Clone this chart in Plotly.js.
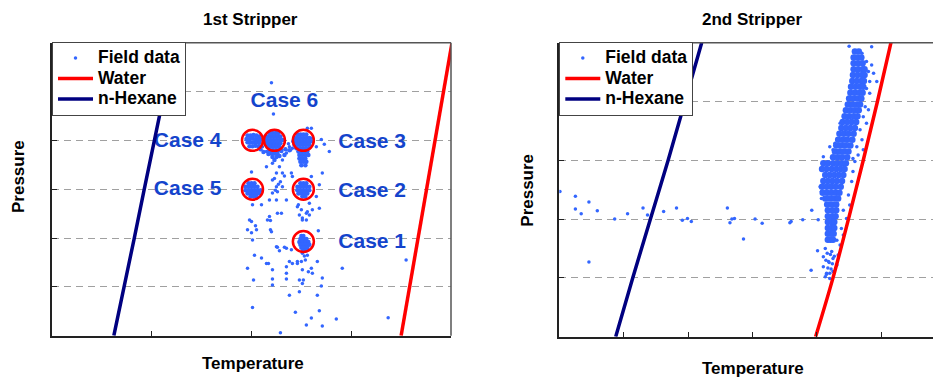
<!DOCTYPE html>
<html>
<head>
<meta charset="utf-8">
<script src="https://cdn.plot.ly/plotly-3.0.1.min.js"></script>
<style>html,body{margin:0;padding:0;background:#fff;}#chart{width:933px;height:379px;}</style>
</head>
<body>
<div id="chart"></div>
<script>
// ---------- 1st stripper ----------
var fieldX1 = [2.20,2.22,2.11,2.15,2.30,2.35,2.31,2.38,2.41,2.61,2.65,2.78,2.56,2.60,2.15,2.21,2.28,2.25,2.31,2.21,2.25,2.21,2.18,2.25,2.31,2.35,2.40,2.41,2.60,2.71,2.68,2.65,2.58,2.61,2.68,2.55,2.51,2.48,2.46,2.26,2.30,2.16,2.18,1.98,2.00,1.96,2.05,2.20,2.01,2.67,2.25,2.35,2.51,2.56,2.46,2.41,2.03,2.10,1.96,2.15,2.21,2.35,2.35,2.60,2.61,2.91,3.55,2.02,2.48,2.51,2.21,2.70,2.71,2.66,2.38,2.48,2.01,2.44,2.68,2.60,2.55,2.71,2.85,3.37,2.29,
  2.01,2.10,2.26,2.47,2.50,2.56,2.51,2.55,2.58,2.04,2.19,2.00,2.19,2.26,2.28,2.33,2.40,2.53,2.54,2.50,2.46,2.38,2.66,2.17,2.51,2.57,2.21,2.35,2.52,
  2.37,2.39,2.70,2.73,2.23,2.29,2.33,2.27,2.24,2.00];
var fieldY1 = [5.18,4.54,3.87,3.77,3.81,3.74,3.60,3.87,3.84,4.05,3.87,3.77,4.25,4.25,3.46,3.53,3.46,3.33,3.33,3.19,3.05,2.92,2.78,2.78,3.05,2.78,3.33,3.26,3.26,3.33,3.09,2.85,2.71,2.58,2.61,2.51,2.37,2.47,2.64,2.51,2.51,2.37,2.44,2.37,2.34,2.17,2.17,2.13,1.96,2.15,1.82,1.79,1.69,1.65,1.48,1.48,1.65,1.59,1.38,1.48,1.35,1.41,1.28,1.38,1.28,1.38,1.55,1.14,1.14,1.07,1.04,1.02,1.18,0.83,0.83,0.90,0.58,0.48,0.51,0.36,0.22,0.20,0.34,0.37,0.06,
  2.68,2.68,2.95,2.68,2.58,2.54,2.41,2.37,2.47,2.25,2.36,2.11,2.17,1.81,1.74,1.81,1.76,1.63,1.55,1.52,1.52,1.52,1.52,1.48,1.35,1.31,1.16,1.16,1.14,
  3.93,3.80,4.02,3.92,3.22,3.15,3.27,3.10,2.98,3.35];

// dense clusters (Case 4, Case 6 + tail, Case 3 + tail, Case 5, Case 2, Case 1)
var denseX1 = [
  1.96,1.99,2.02,2.05,2.08, 1.95,1.98,2.01,2.04,2.07,2.10, 1.96,1.99,2.02,2.05,2.08, 1.98,2.01,2.04,2.07,
  2.18,2.21,2.24,2.27, 2.14,2.17,2.20,2.23,2.26,2.29, 2.13,2.16,2.19,2.22,2.25,2.28,2.31, 2.14,2.17,2.20,2.23,2.26,2.29, 2.16,2.19,2.22,2.25,2.28,
  2.18,2.21,2.24,2.27, 2.20,2.23,2.26, 2.21,2.25, 2.23, 2.09,2.12,2.30,2.34,2.38,2.33,2.28,2.17,
  2.46,2.49,2.52,2.55, 2.43,2.46,2.49,2.52,2.55,2.58, 2.42,2.45,2.48,2.51,2.54,2.57,2.60, 2.43,2.46,2.49,2.52,2.55,2.58, 2.45,2.48,2.51,2.54,2.57,
  2.47,2.50,2.53,2.56, 2.48,2.51,2.54,2.57, 2.48,2.51,2.54, 2.49,2.52,2.55, 2.50,2.54,
  1.97,2.00,2.03, 1.94,1.97,2.00,2.03,2.06, 1.94,1.97,2.00,2.03,2.06,2.09, 1.96,1.99,2.02,2.05,2.08, 1.99,2.02,2.05,
  2.49,2.52,2.55, 2.46,2.49,2.52,2.55,2.58, 2.46,2.49,2.52,2.55,2.58, 2.47,2.50,2.53,2.56, 2.51,2.54,
  2.50,2.52, 2.49,2.52,2.55, 2.48,2.51,2.54,2.57, 2.49,2.52,2.55,2.58, 2.50,2.53,2.56, 2.52,2.55];
var denseY1 = [
  4.10,4.10,4.11,4.10,4.08, 4.03,4.03,4.04,4.03,4.03,4.02, 3.96,3.96,3.96,3.96,3.95, 3.88,3.88,3.89,3.88,
  4.15,4.15,4.15,4.15, 4.08,4.08,4.08,4.08,4.08,4.08, 4.01,4.01,4.01,4.01,4.01,4.01,4.01, 3.94,3.94,3.94,3.94,3.94,3.94, 3.87,3.87,3.87,3.87,3.87,
  3.80,3.80,3.80,3.80, 3.73,3.73,3.73, 3.66,3.66, 3.60, 3.82,3.76,3.78,3.82,3.80,3.70,3.68,3.72,
  4.12,4.12,4.12,4.12, 4.05,4.05,4.05,4.05,4.05,4.05, 3.98,3.98,3.98,3.98,3.98,3.98,3.98, 3.91,3.91,3.91,3.91,3.91,3.91, 3.84,3.84,3.84,3.84,3.84,
  3.77,3.77,3.77,3.77, 3.70,3.70,3.70,3.70, 3.63,3.63,3.63, 3.56,3.56,3.56, 3.49,3.49,
  3.12,3.12,3.12, 3.05,3.05,3.05,3.05,3.05, 2.98,2.98,2.98,2.98,2.98,2.98, 2.91,2.91,2.91,2.91,2.91, 2.85,2.85,2.85,
  3.12,3.12,3.12, 3.05,3.05,3.05,3.05,3.05, 2.98,2.98,2.98,2.98,2.98, 2.91,2.91,2.91,2.91, 2.85,2.85,
  2.04,2.04, 1.98,1.98,1.98, 1.92,1.92,1.92,1.92, 1.86,1.86,1.86,1.86, 1.80,1.80,1.80, 1.75,1.75];

var caseCircleX = [2.01, 2.23, 2.52, 2.01, 2.52, 2.52];
var caseCircleY = [4.00, 4.00, 4.00, 3.00, 3.00, 1.93];
var caseLabels  = ["Case 6", "Case 4", "Case 3", "Case 5", "Case 2", "Case 1"];
var caseLabelX  = [2.33, 1.36, 3.21, 1.36, 3.21, 3.21];
var caseLabelY  = [4.80, 3.97, 3.95, 2.98, 2.94, 1.91];

var waterX1  = [3.50, 3.585, 3.67, 3.755, 3.84, 3.925, 4.01];
var waterY1  = [0, 1, 2, 3, 4, 5, 6];
var hexaneX1 = [0.62, 0.725, 0.825, 0.925, 1.025, 1.13, 1.23];
var hexaneY1 = [0, 1, 2, 3, 4, 5, 6];

// ---------- 2nd stripper ----------
var fieldX2 = [0.01,0.25,0.25,0.34,0.46,0.59,0.86,1.06,1.30,1.37,1.62,1.82,1.91,1.99,2.05,2.61,2.65,2.68,2.72,2.86,3.04,3.15,3.58,3.60,3.78,3.92,4.02,0.46,
  4.50,4.85,4.70,4.77,4.85,4.88,4.80,4.82,4.93,4.77,4.82,4.75,4.80,4.72,4.77,4.67,4.70,4.62,4.72,4.64,4.56,4.36,4.28,4.20,4.25,4.10,
  4.01,3.91,4.41,4.46,4.51,4.49,4.54,4.56,4.59,4.41,4.36,4.38,4.33,4.31,4.25,4.15,4.20,4.13,4.10,4.18,4.25,4.10,4.23,4.13,4.07,4.05,4.07,4.31,
  4.16,4.21,4.27,4.14,4.19,4.24,4.17,4.22,4.15,4.20];
var fieldY2 = [2.47,2.39,2.17,2.09,2.29,2.14,2.00,2.09,2.19,2.07,2.13,2.19,1.98,2.01,1.96,2.19,1.94,2.00,2.01,1.66,2.00,1.93,1.94,1.96,1.99,2.15,1.99,1.27,
  4.94,4.93,4.82,4.68,4.62,4.48,4.51,4.34,4.34,4.22,4.14,3.91,3.86,3.74,3.63,3.52,3.35,3.23,3.18,3.09,3.03,3.63,3.29,3.23,3.18,3.06,
  1.46,1.13,2.15,2.01,2.24,2.41,2.64,2.81,2.98,1.73,1.56,1.84,1.39,1.22,1.11,1.08,0.99,1.02,1.19,1.28,1.33,1.36,1.45,1.50,2.47,2.55,2.35,1.64,
  1.42,1.40,1.37,1.30,1.26,1.24,1.17,1.15,1.06,1.08];

var denseX2 = [
  4.59,4.65, 4.57,4.63,4.69, 4.57,4.64,4.71, 4.57,4.64,4.71,4.74, 4.56,4.63,4.70,4.74, 4.55,4.62,4.69,4.73,
  4.53,4.60,4.67,4.72, 4.52,4.59,4.66,4.71, 4.50,4.57,4.64,4.69, 4.48,4.55,4.62,4.67, 4.45,4.52,4.59,4.65,
  4.43,4.50,4.57,4.63, 4.40,4.47,4.54,4.61, 4.38,4.45,4.52,4.59, 4.35,4.42,4.49,4.57, 4.33,4.40,4.47,4.55,
  4.30,4.37,4.44,4.52, 4.28,4.35,4.42,4.49, 4.25,4.32,4.39,4.47, 4.10,4.17,4.25,4.32,4.39,4.45, 4.08,4.15,4.23,4.30,4.37,4.43,
  4.13,4.20,4.27,4.34,4.41, 4.10,4.17,4.24,4.31,4.39, 4.08,4.15,4.22,4.29,4.37, 4.09,4.16,4.23,4.30,4.35, 4.13,4.20,4.27,4.33,
  4.16,4.23,4.30, 4.17,4.24,4.30, 4.17,4.24,4.29, 4.17,4.23,4.27, 4.17,4.23,4.27, 4.17,4.22,4.26, 4.17,4.21,4.25];
var denseY2 = [
  4.85,4.85, 4.75,4.75,4.75, 4.65,4.65,4.65, 4.55,4.55,4.55,4.55, 4.45,4.45,4.45,4.45, 4.35,4.35,4.35,4.35,
  4.25,4.25,4.25,4.25, 4.15,4.15,4.15,4.15, 4.05,4.05,4.05,4.05, 3.95,3.95,3.95,3.95, 3.85,3.85,3.85,3.85,
  3.75,3.75,3.75,3.75, 3.65,3.65,3.65,3.65, 3.55,3.55,3.55,3.55, 3.45,3.45,3.45,3.45, 3.35,3.35,3.35,3.35,
  3.25,3.25,3.25,3.25, 3.15,3.15,3.15,3.15, 3.05,3.05,3.05,3.05, 2.95,2.95,2.95,2.95,2.95,2.95, 2.85,2.85,2.85,2.85,2.85,2.85,
  2.75,2.75,2.75,2.75,2.75, 2.65,2.65,2.65,2.65,2.65, 2.55,2.55,2.55,2.55,2.55, 2.45,2.45,2.45,2.45,2.45, 2.35,2.35,2.35,2.35,
  2.25,2.25,2.25, 2.15,2.15,2.15, 2.05,2.05,2.05, 1.95,1.95,1.95, 1.85,1.85,1.85, 1.75,1.75,1.75, 1.65,1.65,1.65];

var waterX2  = [3.98, 4.25, 4.49, 4.72, 4.94, 5.15];
var waterY2  = [0, 1, 2, 3, 4, 5];
var hexaneX2 = [0.876, 1.14, 1.415, 1.69, 1.952, 2.211];
var hexaneY2 = [0, 1, 2, 3, 4, 5];

var legendNames = ["Field data", "Water", "n-Hexane"];
var panelTitles = ["1st Stripper", "2nd Stripper"];
var xTitle = "Temperature";
var yTitle = "Pressure";

// ---------- styling ----------
var FONT = "Liberation Sans, Arial, Helvetica, sans-serif";
var BLUE = "#3366ff";
var W = 933, H = 379;
function lg(s) { return "<span style=\"font-size:17.5px\">" + s + "</span>"; }

var traces = [
  {x: fieldX1, y: fieldY1, type: "scatter", mode: "markers", name: lg(legendNames[0]), legend: "legend",
   marker: {color: BLUE, size: 3.5}, xaxis: "x", yaxis: "y"},
  {x: denseX1, y: denseY1, type: "scatter", mode: "markers", showlegend: false,
   marker: {color: BLUE, size: 4.5}, xaxis: "x", yaxis: "y"},
  {x: caseCircleX, y: caseCircleY, type: "scatter", mode: "markers", showlegend: false,
   marker: {symbol: "circle-open", color: "#ff0000", size: 21, line: {width: 2.5, color: "#ff0000"}}, xaxis: "x", yaxis: "y"},
  {x: caseLabelX, y: caseLabelY, text: caseLabels, type: "scatter", mode: "text", showlegend: false,
   textposition: "middle center", textfont: {family: FONT, size: 21, color: "#1444cc", weight: 700}, xaxis: "x", yaxis: "y"},
  {x: waterX1, y: waterY1, type: "scatter", mode: "lines", name: lg(legendNames[1]), legend: "legend",
   line: {color: "#ff0000", width: 3.5}, xaxis: "x", yaxis: "y"},
  {x: hexaneX1, y: hexaneY1, type: "scatter", mode: "lines", name: lg(legendNames[2]), legend: "legend",
   line: {color: "#000080", width: 3.5}, xaxis: "x", yaxis: "y"},

  {x: fieldX2, y: fieldY2, type: "scatter", mode: "markers", name: lg(legendNames[0]), legend: "legend2",
   marker: {color: BLUE, size: 3.5}, xaxis: "x2", yaxis: "y2"},
  {x: denseX2, y: denseY2, type: "scatter", mode: "markers", showlegend: false,
   marker: {color: BLUE, size: 6.5}, xaxis: "x2", yaxis: "y2"},
  {x: waterX2, y: waterY2, type: "scatter", mode: "lines", name: lg(legendNames[1]), legend: "legend2",
   line: {color: "#ff0000", width: 3.5, shape: "spline"}, xaxis: "x2", yaxis: "y2"},
  {x: hexaneX2, y: hexaneY2, type: "scatter", mode: "lines", name: lg(legendNames[2]), legend: "legend2",
   line: {color: "#000080", width: 3.5, shape: "spline"}, xaxis: "x2", yaxis: "y2"}
];

function xax(domain, range, tv) {
  return {domain: domain, range: range, showgrid: false, zeroline: false, showline: true,
    linecolor: "#222", linewidth: 2, ticks: "inside", ticklen: 5, tickwidth: 1, tickcolor: "#222",
    tickvals: tv, showticklabels: false, fixedrange: true};
}
function yax(domain, range, tv, anchor) {
  return {domain: domain, range: range, showgrid: true, gridcolor: "#a0a0a0", gridwidth: 1, griddash: "7px,5px",
    zeroline: false, showline: true, linecolor: "#222", linewidth: 2, ticks: "inside", ticklen: 5,
    tickwidth: 1, tickcolor: "#222", tickvals: tv, showticklabels: false, fixedrange: true, anchor: anchor};
}

var legendBase = {bgcolor: "#ffffff", bordercolor: "#444", borderwidth: 1, yanchor: "top", xanchor: "left",
  font: {family: FONT, size: 13.5, color: "#000", weight: 700}, itemwidth: 35, tracegroupgap: 0, traceorder: "normal"};

function ann(text, px, py, angle, size) {
  return {text: text, xref: "paper", yref: "paper", x: px / W, y: 1 - py / H, xanchor: "center", yanchor: "middle",
    showarrow: false, textangle: angle || 0, font: {family: FONT, size: size || 17, color: "#000", weight: 700}};
}

var layout = {
  width: W, height: H, margin: {l: 0, r: 0, t: 0, b: 0}, paper_bgcolor: "#fff", plot_bgcolor: "#fff",
  showlegend: true,
  xaxis: xax([52 / W, 451 / W], [0, 4], [1, 2, 3]),
  yaxis: yax([1 - 335.7 / H, 1 - 42.7 / H], [0, 6], [1, 2, 3, 4, 5], "x"),
  xaxis2: Object.assign(xax([559.3 / W, 1], [0, (W - 559.3) / 64.4], [1, 2, 3, 4, 5]), {anchor: "y2"}),
  yaxis2: yax([1 - 336.7 / H, 1 - 42.7 / H], [0, 5], [1, 2, 3, 4], "x2"),
  legend: Object.assign({}, legendBase, {x: 52 / W, y: 1 - 41.7 / H}),
  legend2: Object.assign({}, legendBase, {x: 559.3 / W, y: 1 - 41.7 / H}),
  shapes: [
    {type: "line", xref: "x domain", yref: "y domain", x0: 0, x1: 1, y0: 1, y1: 1, line: {color: "#555", width: 1.5}},
    {type: "line", xref: "x domain", yref: "y domain", x0: 1, x1: 1, y0: 0, y1: 1, line: {color: "#555", width: 1.5}},
    {type: "line", xref: "x2 domain", yref: "y2 domain", x0: 0, x1: 1, y0: 1, y1: 1, line: {color: "#555", width: 1.5}}
  ],
  annotations: [
    ann(panelTitles[0], 250.7, 19.5),
    ann(panelTitles[1], 752.2, 19.5),
    ann(xTitle, 253.3, 363.3),
    ann(xTitle, 752.7, 368.3),
    ann(yTitle, 18.3, 176.7, -90),
    ann(yTitle, 526.7, 190, -90)
  ]
};

Plotly.newPlot("chart", traces, layout, {staticPlot: true, displayModeBar: false});
</script>
</body>
</html>
